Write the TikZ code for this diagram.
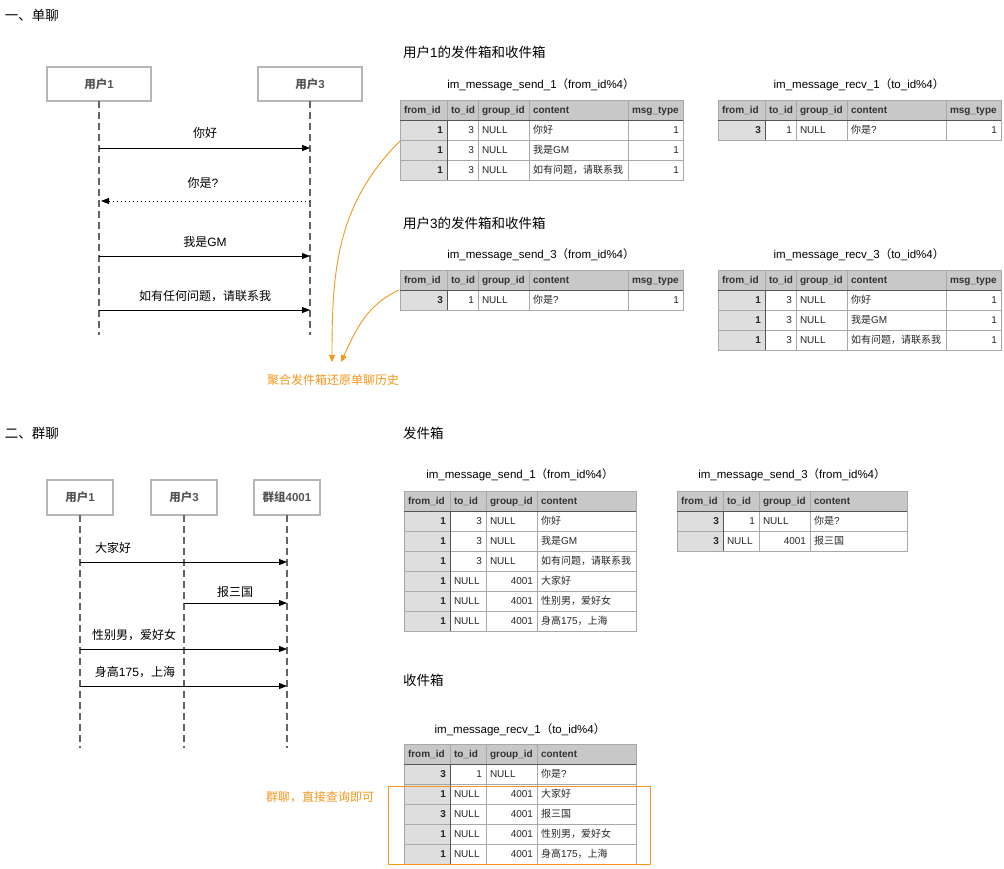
\documentclass[tikz,border=0pt]{standalone}
\usepackage{fontspec}
\setmainfont{Liberation Sans}
\newfontfamily\latinfont{Liberation Sans}
\newfontfamily\cjkfont{Noto Sans CJK SC}
\usetikzlibrary{arrows.meta,positioning}

\XeTeXinterchartokenstate=1
\newXeTeXintercharclass\cjkclass
\newcount\cjkcode
\cjkcode="3000 \loop\XeTeXcharclass\cjkcode=\cjkclass\advance\cjkcode by 1 \ifnum\cjkcode<"3040 \repeat
\cjkcode="4E00 \loop\XeTeXcharclass\cjkcode=\cjkclass\advance\cjkcode by 1 \ifnum\cjkcode<"A000 \repeat
\cjkcode="FF00 \loop\XeTeXcharclass\cjkcode=\cjkclass\advance\cjkcode by 1 \ifnum\cjkcode<"FFF0 \repeat
\XeTeXinterchartoks 0 \cjkclass={\cjkfont}
\XeTeXinterchartoks 4095 \cjkclass={\cjkfont}
\XeTeXinterchartoks \cjkclass 0={\latinfont}

\definecolor{hdrgray}{RGB}{200,200,200}
\definecolor{idgray}{RGB}{222,222,222}
\definecolor{linegray}{RGB}{168,168,168}
\definecolor{darkline}{RGB}{85,85,85}
\definecolor{boxgray}{RGB}{182,182,182}
\definecolor{lifegray}{RGB}{100,100,100}
\definecolor{txtgray}{RGB}{85,85,85}
\definecolor{noteorange}{RGB}{245,150,30}

\def\nullstr{NULL}
\newcommand{\dbval}[5]{%
  \edef\dbtmp{#4}%
  \ifx\dbtmp\nullstr \node[celltext,anchor=base west] (#5) at (#1+4,#3+3.6) {#4};%
  \else \node[celltext,anchor=base east] (#5) at (#2-4,#3+3.6) {#4};\fi}

\newcommand{\dbframe}[4]{%
  \fill[hdrgray] (0,0) rectangle (#1,20);
  \fill[idgray] (0,20) rectangle (#3,20+20*#2);
  \foreach \r in {2,...,#2} \draw[cellline] (0,20*\r) -- (#1,20*\r);
  \foreach \c in {#4} \draw[cellline] (\c,0) -- (\c,20+20*#2);
  \draw[cellline] (0,0) rectangle (#1,20+20*#2);
  \draw[headline] (0,20) -- (#1,20) (#3,20) -- (#3,20+20*#2);
}

\newcommand{\fiveheads}{%
  \foreach \x/\h in {0/from\_id,47/to\_id,78/group\_id,129/content,228/msg\_type}
    \node[headtext] (h\x) at (\x+4,13.5) {\h};}
\newcommand{\fourheads}{%
  \foreach \x/\h in {0/from\_id,46/to\_id,82/group\_id,133/content}
    \node[headtext] (h\x) at (\x+4,13.5) {\h};}

\newcommand{\fiverows}[1]{%
  \foreach \a/\b/\c/\d/\e [count=\i] in {#1} {
    \node[idtext] (r\i a) at (43,\i*20+13.6) {\a};
    \dbval{47}{78}{\i*20+10}{\b}{r\i b}
    \dbval{78}{129}{\i*20+10}{\c}{r\i c}
    \node[celltext,anchor=base west] (r\i d) at (133,\i*20+13.6) {\d};
    \node[celltext,anchor=base east] (r\i e) at (279,\i*20+13.6) {\e};
  }}
\newcommand{\fourrows}[1]{%
  \foreach \a/\b/\c/\d [count=\i] in {#1} {
    \node[idtext] (r\i a) at (42,\i*20+13.6) {\a};
    \dbval{46}{82}{\i*20+10}{\b}{r\i b}
    \dbval{82}{133}{\i*20+10}{\c}{r\i c}
    \node[celltext,anchor=base west] (r\i d) at (137,\i*20+13.6) {\d};
  }}

\begin{document}
\begin{tikzpicture}[x=1pt,y=-1pt,
  every node/.style={inner sep=0pt,outer sep=0pt},
  heading/.style={anchor=west,font=\fontsize{13.5}{16}\selectfont},
  actor/.style={draw=boxgray,line width=1.6pt,minimum width=104pt,minimum height=34pt,
    text=txtgray,font=\fontsize{11.5}{14}\selectfont\bfseries},
  smallactor/.style={actor,minimum width=66pt,minimum height=35pt},
  lifeline/.style={draw=lifegray,line width=1.8pt,dash pattern=on 7pt off 4pt},
  msg/.style={line width=0.9pt,-{Triangle[length=8pt,width=6pt]}},
  reply/.style={msg,dash pattern=on 1pt off 3pt},
  msglabel/.style={font=\fontsize{12}{14}\selectfont},
  note/.style={font=\fontsize{12}{14}\selectfont,text=noteorange},
  notearrow/.style={draw=noteorange,line width=0.9pt,-{Triangle[length=7pt,width=6pt]}},
  tabtitle/.style={font=\fontsize{11.5}{14}\selectfont},
  headtext/.style={anchor=base west,font=\fontsize{10}{12}\selectfont\bfseries,text=black!80},
  celltext/.style={font=\fontsize{10}{12}\selectfont,text=black!85},
  idtext/.style={celltext,anchor=base east,font=\fontsize{10}{12}\selectfont\bfseries},
  cellline/.style={draw=linegray,line width=0.8pt},
  headline/.style={draw=darkline,line width=1pt}]
\useasboundingbox (0,0) rectangle (1004,868);

% one-to-one chat
\node[heading] (sec1) at (5,15) {一、单聊};
\node[actor] (u1) at (99,84) {用户1};
\node[actor] (u3) at (310,84) {用户3};
\coordinate (u1end) at (99,335);
\coordinate (u3end) at (310,335);
\draw[lifeline] (u1) -- (u1end);
\draw[lifeline] (u3) -- (u3end);

\coordinate (m1a) at (99,148);  \coordinate (m1b) at (310,148);
\coordinate (m2a) at (101,201); \coordinate (m2b) at (310,201);
\coordinate (m3a) at (99,256);  \coordinate (m3b) at (310,256);
\coordinate (m4a) at (99,310);  \coordinate (m4b) at (310,310);
\draw[msg] (m1a) -- (m1b);
\draw[reply] (m2b) -- (m2a);
\draw[msg] (m3a) -- (m3b);
\draw[msg] (m4a) -- (m4b);
\node[msglabel] (l1) at (205,133) {你好};
\node[msglabel] (l2) at (203,183) {你是?};
\node[msglabel] (l3) at (205,242) {我是GM};
\node[msglabel] (l4) at (205,296) {如有任何问题，请联系我};

\node[heading] (box1) at (403,52) {用户1的发件箱和收件箱};
\node[heading] (box3) at (403,223) {用户3的发件箱和收件箱};

\begin{scope}[shift={(400,100)},name prefix=sA-]
  \node[tabtitle] (title) at (141,-15) {im\_message\_send\_1（from\_id\%4）};
  \dbframe{283}{3}{47}{47,78,129,228}
  \fiveheads
  \fiverows{1/3/NULL/你好/1, 1/3/NULL/我是GM/1, 1/3/NULL/如有问题，请联系我/1}
\end{scope}
\begin{scope}[shift={(718,100)},name prefix=rA-]
  \node[tabtitle] (title) at (141,-15) {im\_message\_recv\_1（to\_id\%4）};
  \dbframe{283}{1}{47}{47,78,129,228}
  \fiveheads
  \fiverows{3/1/NULL/你是?/1}
\end{scope}
\begin{scope}[shift={(400,270)},name prefix=sB-]
  \node[tabtitle] (title) at (141,-15) {im\_message\_send\_3（from\_id\%4）};
  \dbframe{283}{1}{47}{47,78,129,228}
  \fiveheads
  \fiverows{3/1/NULL/你是?/1}
\end{scope}
\begin{scope}[shift={(718,270)},name prefix=rB-]
  \node[tabtitle] (title) at (141,-15) {im\_message\_recv\_3（to\_id\%4）};
  \dbframe{283}{3}{47}{47,78,129,228}
  \fiveheads
  \fiverows{1/3/NULL/你好/1, 1/3/NULL/我是GM/1, 1/3/NULL/如有问题，请联系我/1}
\end{scope}

\node[note] (merge) at (333,380) {聚合发件箱还原单聊历史};
\coordinate (sendA) at (400,141);
\coordinate (sendB) at (399,290);
\coordinate (mergeL) at (332,362);
\coordinate (mergeR) at (341,362);
\draw[notearrow] (sendA) to[out=225,in=90] (mergeL);
\draw[notearrow] (sendB) to[out=205,in=65] (mergeR);

% group chat
\node[heading] (sec2) at (5,433) {二、群聊};
\node[smallactor] (g1) at (80,497.5) {用户1};
\node[smallactor] (g3) at (184,497.5) {用户3};
\node[smallactor] (grp) at (287,497.5) {群组4001};
\coordinate (g1end) at (80,748);
\coordinate (g3end) at (184,748);
\coordinate (grpend) at (287,748);
\draw[lifeline] (g1) -- (g1end);
\draw[lifeline] (g3) -- (g3end);
\draw[lifeline] (grp) -- (grpend);

\coordinate (n1a) at (80,562);  \coordinate (n1b) at (287,562);
\coordinate (n2a) at (184,603); \coordinate (n2b) at (287,603);
\coordinate (n3a) at (80,649);  \coordinate (n3b) at (287,649);
\coordinate (n4a) at (80,686);  \coordinate (n4b) at (287,686);
\draw[msg] (n1a) -- (n1b);
\draw[msg] (n2a) -- (n2b);
\draw[msg] (n3a) -- (n3b);
\draw[msg] (n4a) -- (n4b);
\node[msglabel] (k1) at (113,548) {大家好};
\node[msglabel] (k2) at (235,592) {报三国};
\node[msglabel] (k3) at (134,635) {性别男，爱好女};
\node[msglabel] (k4) at (135,672) {身高175，上海};

\node[heading] (outbox) at (403,433) {发件箱};
\node[heading] (inbox) at (403,680) {收件箱};

\begin{scope}[shift={(404,491)},name prefix=sC-]
  \node[tabtitle] (title) at (116,-16) {im\_message\_send\_1（from\_id\%4）};
  \dbframe{232}{6}{46}{46,82,133}
  \fourheads
  \fourrows{1/3/NULL/你好, 1/3/NULL/我是GM, 1/3/NULL/如有问题，请联系我,
    1/NULL/4001/大家好, 1/NULL/4001/性别男，爱好女, 1/NULL/4001/身高175，上海}
\end{scope}
\begin{scope}[shift={(677,491)},name prefix=sD-]
  \node[tabtitle] (title) at (115,-16) {im\_message\_send\_3（from\_id\%4）};
  \dbframe{230}{2}{46}{46,82,133}
  \fourheads
  \fourrows{3/1/NULL/你是?, 3/NULL/4001/报三国}
\end{scope}
\begin{scope}[shift={(404,744)},name prefix=rC-]
  \node[tabtitle] (title) at (116,-14) {im\_message\_recv\_1（to\_id\%4）};
  \dbframe{232}{5}{46}{46,82,133}
  \fourheads
  \fourrows{3/1/NULL/你是?, 1/NULL/4001/大家好, 3/NULL/4001/报三国,
    1/NULL/4001/性别男，爱好女, 1/NULL/4001/身高175，上海}
\end{scope}

\node[draw=noteorange,line width=0.9pt,minimum width=262pt,minimum height=78pt] (grpbox) at (519,825) {};
\node[note] (grpnote) at (320,797) {群聊，直接查询即可};
\end{tikzpicture}
\end{document}
